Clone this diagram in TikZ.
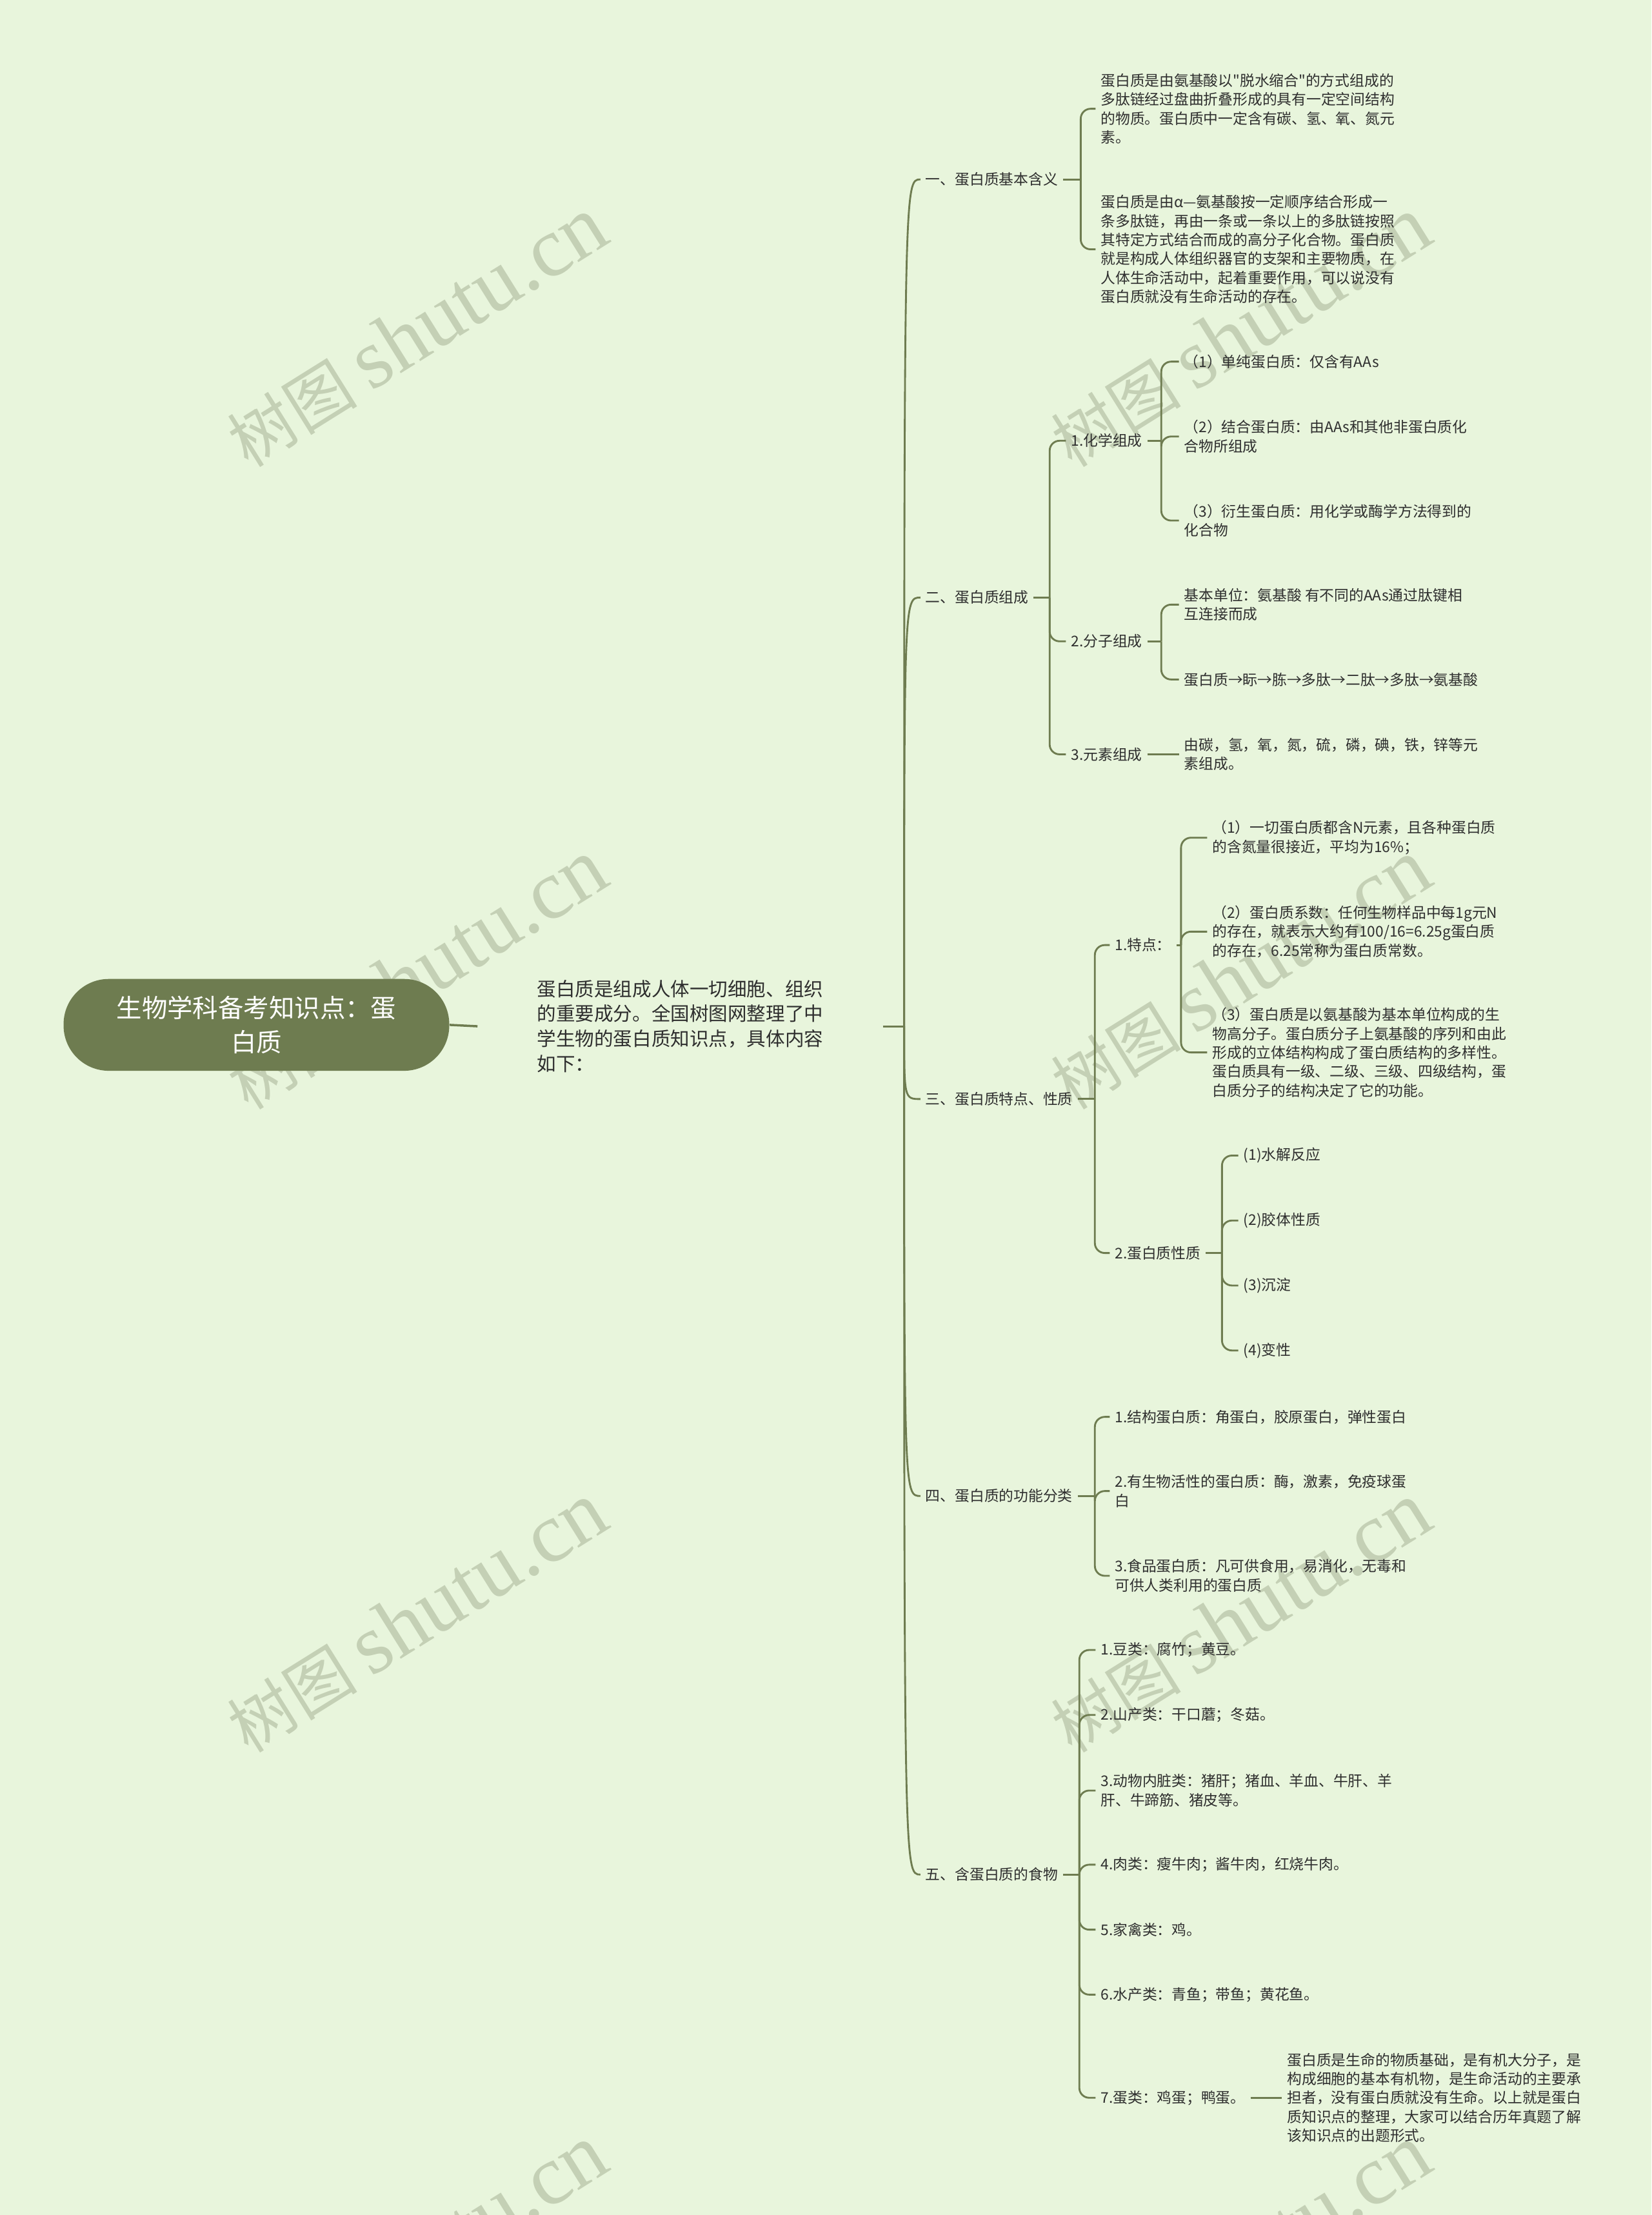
\documentclass[tikz,border=0pt]{standalone}
\usepackage{fontspec}
\setmainfont{Noto Sans CJK SC}
\newfontfamily\plainq{Noto Sans CJK SC}
\newfontfamily\wmserif{Liberation Serif}
\definecolor{bg}{HTML}{E8F5DC}
\definecolor{ol}{HTML}{6E7C50}
\definecolor{tx}{HTML}{2E2E2E}
\definecolor{wm}{HTML}{C4D0B5}
\begin{document}
\begin{tikzpicture}[x=1pt,y=-1pt,
  every node/.style={text=tx},
  lbl/.style={anchor=west, inner xsep=3.5pt, inner ysep=1pt, align=left, font=\fontsize{10.4}{13.4}\selectfont},
  br/.style={draw=ol, line width=1.3pt, rounded corners=7pt},
  trunk/.style={draw=ol, line width=1.3pt},
  wmk/.style={text=wm, rotate=32, inner sep=0pt, font=\fontsize{46}{46}\selectfont},
  rootnode/.style={fill=ol, rounded corners=32pt, minimum width=273pt, minimum height=65pt, text=white, align=center, font=\fontsize{18}{24}\selectfont},
  intronode/.style={anchor=west, inner xsep=42pt, inner ysep=1pt, align=left, font=\fontsize{13.5}{17.7}\selectfont}
]
\fill[bg] (0,0) rectangle (1169,1568);
\useasboundingbox (0,0) rectangle (1169,1568);

% watermarks
\newcommand{\wmtext}{树图 {\wmserif\fontsize{60}{60}\selectfont shutu.cn}}
\node[wmk] (w1) at (295,235) {\wmtext};
\node[wmk] (w2) at (878,235) {\wmtext};
\node[wmk] (w3) at (295,690) {\wmtext};
\node[wmk] (w4) at (878,690) {\wmtext};
\node[wmk] (w5) at (295,1145) {\wmtext};
\node[wmk] (w6) at (878,1145) {\wmtext};
\node[wmk] (w7) at (295,1600) {\wmtext};
\node[wmk] (w8) at (878,1600) {\wmtext};

% root and intro
\node[rootnode] (root) at (181.5,725.5) {生物学科备考知识点：蛋\\白质};
\node[intronode] (intro) at (338,726.5) {蛋白质是组成人体一切细胞、组织\\的重要成分。全国树图网整理了中\\学生物的蛋白质知识点，具体内容\\如下：};
\draw[ol, line width=1.6pt] (root.east) -- (intro.west);
\coordinate (J) at (640,726.5);
\draw[trunk] (intro.east) -- (J);

% level 1
\node[lbl] (a) at (651.5,127) {一、蛋白质基本含义};
\node[lbl] (b) at (651.5,423) {二、蛋白质组成};
\node[lbl] (c) at (651.5,778) {三、蛋白质特点、性质};
\node[lbl] (d) at (651.5,1059) {四、蛋白质的功能分类};
\node[lbl] (e) at (651.5,1327) {五、含蛋白质的食物};
\foreach \n/\yy in {a/127,b/423,c/778,d/1059,e/1327}
  \draw[trunk] (J) .. controls (640,\yy) .. (\n.west);

% branch a
\node[lbl] (a1) at (775.5,77) {蛋白质是由氨基酸以{\plainq"}脱水缩合{\plainq"}的方式组成的\\多肽链经过盘曲折叠形成的具有一定空间结构\\的物质。蛋白质中一定含有碳、氢、氧、氮元\\素。};
\node[lbl] (a2) at (775.5,176.5) {蛋白质是由α—氨基酸按一定顺序结合形成一\\条多肽链，再由一条或一条以上的多肽链按照\\其特定方式结合而成的高分子化合物。蛋白质\\就是构成人体组织器官的支架和主要物质，在\\人体生命活动中，起着重要作用，可以说没有\\蛋白质就没有生命活动的存在。};
\coordinate (sa) at (765,127);
\draw[br] (a.east) -- (sa);
\foreach \c in {a1,a2} \draw[br] (sa) |- (\c.west);

% branch b
\node[lbl] (b1) at (754.5,312) {1.化学组成};
\node[lbl] (b2) at (754.5,454) {2.分子组成};
\node[lbl] (b3) at (754.5,534) {3.元素组成};
\coordinate (sb) at (743,423);
\draw[br] (b.east) -- (sb);
\foreach \c in {b1,b2,b3} \draw[br] (sb) |- (\c.west);

\node[lbl] (b11) at (834.5,256) {（1）单纯蛋白质：仅含有AAs};
\node[lbl] (b12) at (834.5,309) {（2）结合蛋白质：由AAs和其他非蛋白质化\\合物所组成};
\node[lbl] (b13) at (834.5,368.5) {（3）衍生蛋白质：用化学或酶学方法得到的\\化合物};
\coordinate (sb1) at (822,312);
\draw[br] (b1.east) -- (sb1);
\foreach \c in {b11,b12,b13} \draw[br] (sb1) |- (\c.west);

\node[lbl] (b21) at (834.5,428) {基本单位：氨基酸 有不同的AAs通过肽键相\\互连接而成};
\node[lbl] (b22) at (834.5,481) {蛋白质→眎→胨→多肽→二肽→多肽→氨基酸};
\coordinate (sb2) at (822,454);
\draw[br] (b2.east) -- (sb2);
\foreach \c in {b21,b22} \draw[br] (sb2) |- (\c.west);

\node[lbl] (b31) at (834.5,534) {由碳，氢，氧，氮，硫，磷，碘，铁，锌等元\\素组成。};
\draw[br] (b3.east) -- (b31.west);

% branch c
\node[lbl] (c1) at (785.5,669) {1.特点：};
\node[lbl] (c2) at (785.5,887) {2.蛋白质性质};
\coordinate (sc) at (775,778);
\draw[br] (c.east) -- (sc);
\foreach \c in {c1,c2} \draw[br] (sc) |- (\c.west);

\node[lbl] (c11) at (854.5,593) {（1）一切蛋白质都含N元素，且各种蛋白质\\的含氮量很接近，平均为16\%；};
\node[lbl] (c12) at (854.5,659.5) {（2）蛋白质系数：任何生物样品中每1g元N\\的存在，就表示大约有100/16=6.25g蛋白质\\的存在，6.25常称为蛋白质常数。};
\node[lbl] (c13) at (854.5,745) {（3）蛋白质是以氨基酸为基本单位构成的生\\物高分子。蛋白质分子上氨基酸的序列和由此\\形成的立体结构构成了蛋白质结构的多样性。\\蛋白质具有一级、二级、三级、四级结构，蛋\\白质分子的结构决定了它的功能。};
\coordinate (sc1) at (836,669);
\draw[br] (c1.east) -- (sc1);
\foreach \c in {c11,c12,c13} \draw[br] (sc1) |- (\c.west);

\node[lbl] (c21) at (876.5,818) {(1)水解反应};
\node[lbl] (c22) at (876.5,864) {(2)胶体性质};
\node[lbl] (c23) at (876.5,910) {(3)沉淀};
\node[lbl] (c24) at (876.5,956) {(4)变性};
\coordinate (sc2) at (865,887);
\draw[br] (c2.east) -- (sc2);
\foreach \c in {c21,c22,c23,c24} \draw[br] (sc2) |- (\c.west);

% branch d
\node[lbl] (d1) at (785.5,1003) {1.结构蛋白质：角蛋白，胶原蛋白，弹性蛋白};
\node[lbl] (d2) at (785.5,1055.5) {2.有生物活性的蛋白质：酶，激素，免疫球蛋\\白};
\node[lbl] (d3) at (785.5,1115.5) {3.食品蛋白质：凡可供食用，易消化，无毒和\\可供人类利用的蛋白质};
\coordinate (sd) at (775,1059);
\draw[br] (d.east) -- (sd);
\foreach \c in {d1,d2,d3} \draw[br] (sd) |- (\c.west);

% branch e
\node[lbl] (e1) at (775.5,1168) {1.豆类：腐竹；黄豆。};
\node[lbl] (e2) at (775.5,1214) {2.山产类：干口蘑；冬菇。};
\node[lbl] (e3) at (775.5,1267.5) {3.动物内脏类：猪肝；猪血、羊血、牛肝、羊\\肝、牛蹄筋、猪皮等。};
\node[lbl] (e4) at (775.5,1320) {4.肉类：瘦牛肉；酱牛肉，红烧牛肉。};
\node[lbl] (e5) at (775.5,1366) {5.家禽类：鸡。};
\node[lbl] (e6) at (775.5,1412) {6.水产类：青鱼；带鱼；黄花鱼。};
\node[lbl] (e7) at (775.5,1485) {7.蛋类：鸡蛋；鸭蛋。};
\coordinate (se) at (764,1327);
\draw[br] (e.east) -- (se);
\foreach \c in {e1,e2,e3,e4,e5,e6,e7} \draw[br] (se) |- (\c.west);

\node[lbl] (e71) at (907.5,1485) {蛋白质是生命的物质基础，是有机大分子，是\\构成细胞的基本有机物，是生命活动的主要承\\担者，没有蛋白质就没有生命。以上就是蛋白\\质知识点的整理，大家可以结合历年真题了解\\该知识点的出题形式。};
\draw[br] (e7.east) -- (e71.west);
\end{tikzpicture}
\end{document}
